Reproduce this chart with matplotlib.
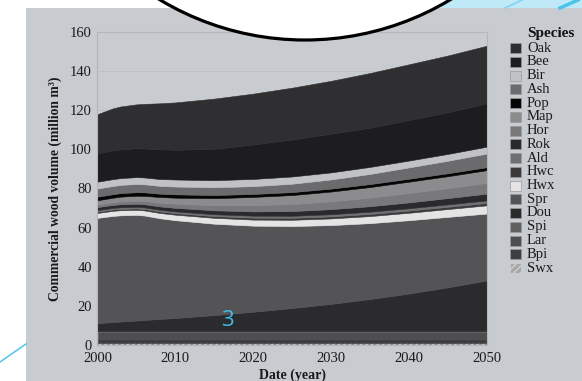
import matplotlib.pyplot as plt
from matplotlib.patches import Rectangle, Circle, Polygon

# simulated standing volume by species, million m3
years = [2000, 2002, 2003, 2005, 2006, 2008, 2010, 2015, 2020, 2025, 2030, 2035, 2040, 2045, 2050]

swx = [1.0, 1.0, 1.0, 1.0, 1.0, 1.0, 1.0, 1.0, 1.0, 1.0, 1.0, 1.0, 1.0, 1.0, 1.0]
bpi = [2.2, 2.2, 2.2, 2.2, 2.2, 2.2, 2.2, 2.2, 2.2, 2.2, 2.2, 2.2, 2.2, 2.2, 2.2]
lar = [3.4, 3.4, 3.4, 3.4, 3.4, 3.4, 3.4, 3.4, 3.4, 3.4, 3.4, 3.4, 3.4, 3.4, 3.4]
spi = [0.5, 0.5, 0.5, 0.5, 0.5, 0.5, 0.5, 0.5, 0.5, 0.5, 0.5, 0.5, 0.5, 0.5, 0.5]
dou = [4.1, 4.6, 4.9, 5.4, 5.7, 6.2, 6.7, 8.2, 9.9, 11.8, 13.9, 16.4, 19.2, 22.4, 25.9]
spr = [53.8, 54.3, 54.3, 54.0, 53.4, 51.5, 50.0, 46.7, 44.0, 41.9, 40.3, 38.8, 37.5, 36.0, 34.2]
hwx = [2.5, 2.6, 2.6, 2.6, 2.6, 2.7, 2.8, 3.0, 3.1, 3.2, 3.4, 3.6, 3.8, 4.0, 4.2]
hwc = [0.7, 0.7, 0.7, 0.7, 0.75, 0.8, 0.8, 0.9, 1.0, 1.0, 1.05, 1.1, 1.1, 1.15, 1.2]
ald = [0.8, 0.8, 0.8, 0.8, 0.8, 0.85, 0.9, 0.95, 1.0, 1.05, 1.1, 1.15, 1.2, 1.25, 1.3]
rok = [1.5, 1.5, 1.55, 1.6, 1.6, 1.7, 1.8, 2.0, 2.2, 2.4, 2.6, 2.8, 3.0, 3.2, 3.5]
hor = [1.3, 1.4, 1.5, 1.6, 1.7, 1.9, 2.1, 2.6, 3.2, 3.6, 4.0, 4.4, 4.8, 5.1, 5.5]
map_ = [2.2, 2.3, 2.4, 2.5, 2.6, 2.9, 3.1, 3.6, 4.2, 4.6, 5.0, 5.4, 5.8, 6.1, 6.5]
pop = [1.8, 1.8, 1.8, 1.8, 1.8, 1.7, 1.7, 1.6, 1.5, 1.5, 1.5, 1.5, 1.5, 1.5, 1.5]
ash = [4.2, 4.2, 4.2, 4.2, 4.1, 4.0, 4.0, 4.0, 4.0, 4.3, 4.7, 5.2, 5.8, 6.4, 7.0]
bir = [3.5, 3.5, 3.5, 3.5, 3.5, 3.5, 3.6, 3.6, 3.7, 3.7, 3.6, 3.6, 3.5, 3.5, 3.5]
bee = [14.5, 14.7, 14.6, 14.8, 14.8, 15.2, 15.2, 16.0, 17.6, 18.9, 19.8, 20.0, 20.7, 21.3, 22.2]
oak = [20.0, 21.5, 22.0, 22.4, 22.8, 23.5, 24.2, 25.7, 26.0, 26.5, 27.0, 28.0, 28.5, 29.0, 29.4]

# legend order (top of the stack first)
species = ['Oak', 'Bee', 'Bir', 'Ash', 'Pop', 'Map', 'Hor', 'Rok', 'Ald',
           'Hwc', 'Hwx', 'Spr', 'Dou', 'Spi', 'Lar', 'Bpi', 'Swx']
volumes = [oak, bee, bir, ash, pop, map_, hor, rok, ald,
           hwc, hwx, spr, dou, spi, lar, bpi, swx]
colors = ['#2f2f31', '#1d1d1f', '#c0c2c5', '#6b6b6d', '#050505', '#8c8c8e',
          '#79797b', '#2a2a2c', '#707072', '#3a3a3c', '#e4e4e4', '#545456',
          '#2b2b2d', '#606062', '#4e4e50', '#3e3e40', '#8a8a8a']

panel = '#c8cbcf'
W, H = 582, 381
serif = 'Liberation Serif'

fig = plt.figure(figsize=(W / 100, H / 100), dpi=100, facecolor='white')

# grey slide panel behind the chart
bg = fig.add_axes([0, 0, 1, 1], zorder=0)
bg.set_xlim(0, W)
bg.set_ylim(H, 0)
bg.axis('off')
bg.add_patch(Rectangle((26, 8), W - 26, H - 8, facecolor=panel, edgecolor='none'))

ax = fig.add_axes([97.5 / W, 1 - 345 / H, (487 - 97.5) / W, (345 - 32) / H], zorder=1)
ax.set_facecolor(panel)

polys = ax.stackplot(years, *volumes[::-1], colors=colors[::-1])
for p, c in zip(polys, colors[::-1]):
    p.set_edgecolor(c)
    p.set_linewidth(0.4)
# softwood "other" layer is hatched
polys[0].set_facecolor('#8e8e8e')
polys[0].set_edgecolor('#cfcfcf')
polys[0].set_hatch('//////')
polys[0].set_linewidth(0)

ax.set_xlim(2000, 2050)
ax.set_ylim(0, 160)
ax.set_xticks(range(2000, 2051, 10))
ax.set_yticks(range(0, 161, 20))
ax.yaxis.grid(True, color='#bcc0c4', lw=0.6)
ax.set_axisbelow(True)
for s in ax.spines.values():
    s.set_color('#b3b7bb')
    s.set_linewidth(0.8)
ax.tick_params(length=0, labelsize=10.5, colors='#1a1a1a')
ax.tick_params(axis='y', pad=4)
ax.tick_params(axis='x', pad=5)
for lab in ax.get_xticklabels() + ax.get_yticklabels():
    lab.set_family(serif)

ax.set_ylabel('Commercial wood volume (million m³)', family=serif, weight='bold',
              fontsize=9.8, color='#1a1a1a', va='center')
ax.yaxis.set_label_coords((55 - 97.5) / (487 - 97.5), 0.5)
ax.set_xlabel('Date (year)', family=serif, weight='bold', fontsize=10,
              color='#1a1a1a', va='center')
ax.xaxis.set_label_coords(0.5, -(375 - 345) / (345 - 32))

# overlay in pixel coordinates: legend and slide decorations
ov = fig.add_axes([0, 0, 1, 1], zorder=2)
ov.set_xlim(0, W)
ov.set_ylim(H, 0)
ov.axis('off')
ov.patch.set_alpha(0)

ov.text(527, 34, 'Species', family=serif, weight='bold', fontsize=11,
        va='center', ha='left', color='#111111')
for i, (name, c) in enumerate(zip(species, colors)):
    yc = 48 + i * 13.75
    sq = Rectangle((510, yc - 5), 11, 10, facecolor=c, edgecolor='#9a9a9a', lw=0.5)
    if name == 'Swx':
        sq.set_facecolor('#a8a8a8')
        sq.set_edgecolor('#d0d0d0')
        sq.set_hatch('/////')
    ov.add_patch(sq)
    ov.text(527, yc, name, family=serif, fontsize=10.5, va='center', ha='left',
            color='#1a1a1a')

# light blue corner shape and accent lines
ov.add_patch(Polygon([(447, 0), (582, 0), (582, 8), (440, 8)], closed=True,
                     facecolor='#bfe9f7', edgecolor='none'))
ov.plot([505, 522], [8, 0], color='#7fd5f0', lw=1.2)
ov.plot([560, 578], [8, 0], color='#4cc4ea', lw=2.5)
ov.plot([0, 26], [362, 344], color='#5cc8ec', lw=1.2)

# white circle callout cutting into the top of the panel
ov.add_patch(Circle((305, -242), 282, facecolor='white', edgecolor='black', lw=2.3))

ov.text(227, 320, '3', family='Open Sans', fontsize=16, color='#3fbde6',
        ha='center', va='center')

fig.savefig('out.png', dpi=100, facecolor='white')
